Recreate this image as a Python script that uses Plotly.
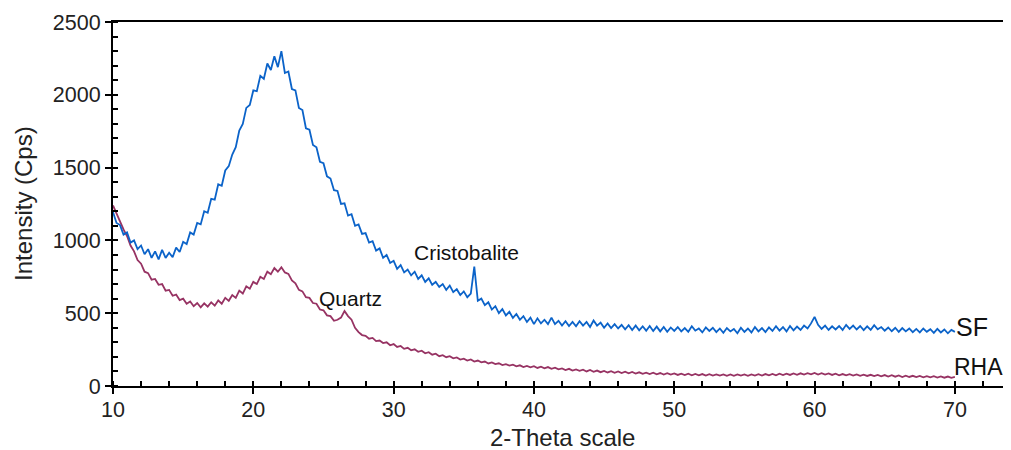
import plotly.graph_objects as go

# 2-theta scan grid (degrees)
theta_start = 10.0
theta_step = 0.25

# SF intensity (Cps), every 0.25 deg from 10 to 70
sf_counts = [
    1195, 1120, 1105, 1040, 1055, 985, 1000, 940,
    965, 905, 940, 880, 925, 870, 935, 880,
    915, 885, 950, 920, 990, 975, 1055, 1040,
    1120, 1110, 1200, 1190, 1285, 1280, 1385, 1375,
    1480, 1510, 1590, 1640, 1755, 1800, 1910, 1930,
    2030, 2025, 2130, 2110, 2215, 2170, 2265, 2190,
    2300, 2150, 2160, 2040, 2030, 1910, 1895, 1770,
    1760, 1655, 1640, 1540, 1530, 1440, 1425, 1345,
    1340, 1250, 1255, 1170, 1180, 1100, 1110, 1045,
    1050, 985, 995, 930, 945, 880, 900, 845,
    860, 805, 830, 780, 800, 760, 785, 735,
    760, 715, 740, 695, 715, 680, 700, 660,
    690, 645, 665, 625, 650, 610, 635, 820,
    585, 600, 555, 575, 525, 548, 500, 528,
    485, 510, 468, 495, 455, 480, 440, 470,
    425, 465, 430, 455, 425, 470, 425, 448,
    415, 445, 412, 440, 410, 445, 415, 440,
    405, 450, 415, 435, 400, 430, 398, 425,
    395, 420, 390, 418, 385, 415, 382, 410,
    380, 412, 378, 408, 375, 405, 372, 402,
    378, 405, 375, 398, 372, 410, 380, 395,
    368, 402, 378, 400, 370, 395, 365, 398,
    375, 392, 362, 400, 372, 395, 368, 405,
    375, 398, 370, 402, 378, 410, 380, 405,
    375, 412, 382, 408, 385, 415, 395, 430,
    475, 420, 392, 415, 385, 410, 388, 412,
    385, 420, 392, 415, 388, 412, 384, 410,
    386, 418, 390, 405, 380, 402, 376, 400,
    372, 398, 375, 395, 370, 392, 368, 395,
    372, 390, 365, 392, 368, 388, 362, 385,
    372,
]

# RHA intensity (Cps), same grid
rha_counts = [
    1240, 1185, 1125, 1075, 1030, 965, 925, 865,
    840, 785, 775, 730, 735, 695, 700, 655,
    660, 620, 628, 590, 600, 565, 580, 548,
    570, 540, 568, 545, 575, 552, 588, 565,
    605, 585, 625, 605, 655, 635, 685, 668,
    715, 700, 750, 735, 785, 768, 810, 785,
    815, 780, 770, 725, 705, 660, 650, 610,
    605, 570, 565, 525, 520, 485, 480, 448,
    455, 470, 515, 480, 455, 400, 370, 350,
    345, 325, 330, 308, 312, 295, 300, 280,
    288, 268, 275, 255, 262, 245, 252, 235,
    242, 225, 232, 215, 222, 205, 212, 198,
    205, 190, 196, 182, 188, 175, 182, 168,
    175, 162, 168, 155, 162, 150, 156, 144,
    150, 140, 146, 135, 142, 130, 138, 128,
    136, 124, 133, 121, 130, 118, 126, 114,
    121, 110, 118, 106, 114, 104, 112, 100,
    110, 98, 106, 95, 104, 93, 102, 91,
    100, 89, 98, 87, 96, 86, 94, 84,
    92, 82, 91, 80, 89, 79, 88, 78,
    86, 76, 85, 75, 84, 74, 83, 73,
    82, 72, 81, 72, 80, 71, 80, 70,
    79, 70, 80, 71, 79, 70, 80, 72,
    81, 72, 82, 73, 83, 74, 84, 75,
    85, 76, 86, 77, 87, 78, 88, 80,
    90, 79, 88, 78, 86, 76, 84, 74,
    82, 73, 81, 72, 80, 70, 78, 69,
    77, 68, 76, 66, 75, 65, 74, 64,
    72, 62, 71, 62, 70, 61, 69, 60,
    68, 59, 67, 58, 66, 57, 65, 56,
    62,
]

sf_theta = [theta_start + theta_step * i for i in range(len(sf_counts))]
rha_theta = [theta_start + theta_step * i for i in range(len(rha_counts))]

x_ticks = [10, 20, 30, 40, 50, 60, 70]
y_ticks = [0, 500, 1000, 1500, 2000, 2500]

# peak labels and series labels: (text, 2-theta, intensity, font size)
peak_labels = [("Cristobalite", 31.38, 917, 21), ("Quartz", 24.6, 604, 21)]
series_labels = [("SF", 70.0, 402, 25), ("RHA", 69.9, 130, 23)]

SF_COLOR = "#0b63c9"
RHA_COLOR = "#973363"
FONT = "Liberation Sans, Arial, Helvetica, sans-serif"

fig = go.Figure()
fig.add_trace(go.Scatter(x=rha_theta, y=rha_counts, mode="lines", name="RHA",
                         line=dict(color=RHA_COLOR, width=1.8)))
fig.add_trace(go.Scatter(x=sf_theta, y=sf_counts, mode="lines", name="SF",
                         line=dict(color=SF_COLOR, width=1.8)))

annotations = []
for text, x, y, size in peak_labels + series_labels:
    annotations.append(dict(x=x, y=y, xref="x", yref="y", text=text, showarrow=False,
                            xanchor="left", yanchor="middle", borderpad=0,
                            font=dict(size=size, color="#111111", family=FONT)))
annotations.append(dict(x=0.5, y=0, xref="paper", yref="paper", text="2-Theta scale",
                        showarrow=False, xanchor="center", yanchor="middle", yshift=-51,
                        font=dict(size=24, color="#222222", family=FONT)))
annotations.append(dict(x=0, y=0.5, xref="paper", yref="paper", text="Intensity (Cps)",
                        showarrow=False, xanchor="center", yanchor="middle", xshift=-90,
                        textangle=-90, font=dict(size=24, color="#222222", family=FONT)))

# the page body has an 8px margin, so the figure is offset to land where the original does
fig.update_layout(
    width=1003, height=442,
    margin=dict(l=105, r=0, t=14, b=64, autoexpand=False),
    paper_bgcolor="white", plot_bgcolor="white",
    showlegend=False,
    font=dict(family=FONT, size=21, color="#222222"),
    annotations=annotations,
)
fig.update_xaxes(
    range=[10, 74], tickvals=x_ticks, ticks="outside", ticklen=6, tickwidth=2,
    tickcolor="black", showline=True, linecolor="black", linewidth=2, mirror=True,
    showgrid=False, zeroline=False, automargin=False, ticklabelstandoff=-3,
    tickfont=dict(size=21.5, color="#222222", family=FONT),
    minor=dict(dtick=2, ticks="inside", ticklen=5, tickwidth=1.5, tickcolor="black",
               showgrid=False),
)
fig.update_yaxes(
    range=[0, 2500], tickvals=y_ticks, ticks="outside", ticklen=6, tickwidth=2,
    tickcolor="black", showline=True, linecolor="black", linewidth=2,
    showgrid=False, zeroline=False, automargin=False,
    tickfont=dict(size=21.5, color="#222222", family=FONT),
    minor=dict(dtick=100, ticks="inside", ticklen=5, tickwidth=1.5, tickcolor="black",
               showgrid=False),
)

fig.write_html("out.html")
